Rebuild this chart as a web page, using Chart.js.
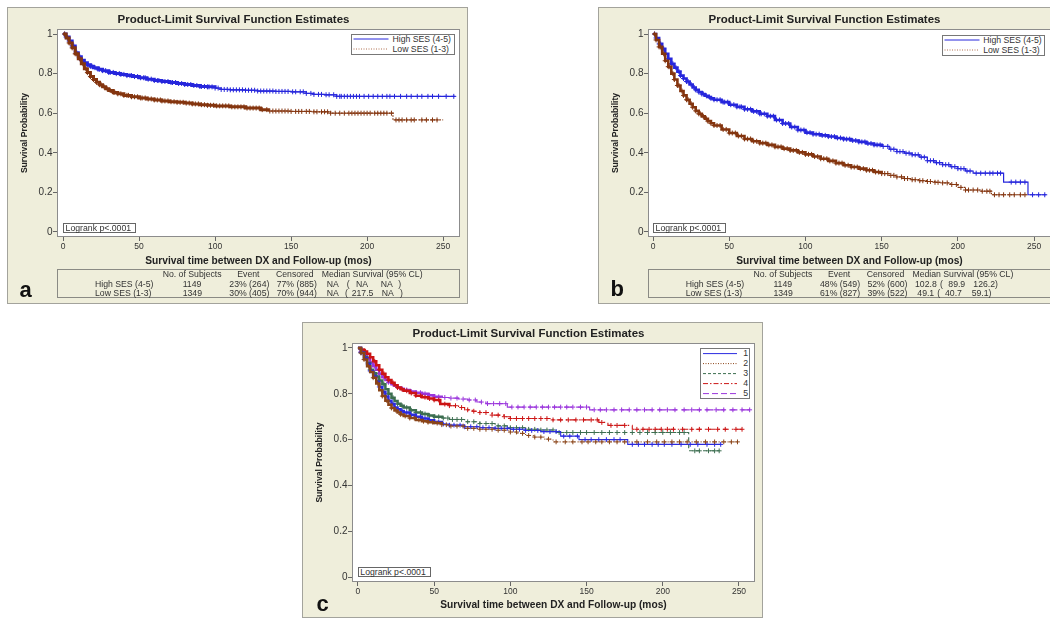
<!DOCTYPE html>
<html><head><meta charset="utf-8">
<script src="https://cdn.jsdelivr.net/npm/chart.js@4.4.1/dist/chart.umd.min.js"></script>
<style>
body{margin:0;width:1050px;height:619px;overflow:hidden;position:relative;background:#fff;font-family:"Liberation Sans",Arial,sans-serif;}
.panel{position:absolute;background:#efeedb;outline:1px solid #a3a39c;outline-offset:-1px;}
.panel canvas{position:absolute;left:0;top:0;}
.t{position:absolute;white-space:pre;font-size:8.7px;color:#333;line-height:10px;}
.box{position:absolute;border:1px solid #8a8a84;box-sizing:border-box;}
.lg{position:absolute;border:1px solid #777;background:#fff;box-sizing:border-box;}
.lr{position:absolute;border:1px solid #666;background:#fff;box-sizing:border-box;}
.let{position:absolute;font-weight:bold;font-size:22px;line-height:22px;color:#111;}
</style></head>
<body>
<div class="panel" id="pa" style="left:7px;top:7px;width:461px;height:297px"><canvas id="ca" width="461" height="297"></canvas></div>
<div class="panel" id="pb" style="left:598px;top:7px;width:461px;height:297px"><canvas id="cb" width="461" height="297"></canvas></div>
<div class="panel" id="pc" style="left:302px;top:322px;width:461px;height:296px"><canvas id="cc" width="461" height="296"></canvas></div>
<script>
// ---------------- DATA ----------------
const chartTitle = 'Product-Limit Survival Function Estimates';
const xTitle = 'Survival time between DX and Follow-up (mos)';
const yTitle = 'Survival Probability';
const xTicks = [0, 50, 100, 150, 200, 250];
const yTicks = [0, 0.2, 0.4, 0.6, 0.8, 1];
const yTickLabels = ['0', '0.2', '0.4', '0.6', '0.8', '1'];
const logrankText = 'Logrank p<.0001';
const legendAB = ['High SES (4-5)', 'Low SES (1-3)'];
const legendC = ['1', '2', '3', '4', '5'];

// Panel a: step curves (time, survival) and censor times
const aHighT = [0,2,4,6,8,10,12,14,16,18,20,23,26,30,34,38,42,46,50,55,60,65,70,75,80,85,90,95,100,104,110,120,128,140,150,160,165,172,180,258];
const aHighS = [1,0.985,0.965,0.94,0.905,0.885,0.868,0.855,0.845,0.837,0.83,0.822,0.815,0.806,0.80,0.796,0.79,0.785,0.779,0.772,0.765,0.76,0.755,0.75,0.745,0.74,0.735,0.733,0.727,0.72,0.718,0.716,0.712,0.71,0.708,0.70,0.695,0.693,0.685,0.685];
const aHighCens = [1,2,4,6,7,9,11,12,14,16,18,19,21,23,24,26,28,30,31,33,35,37,38,40,42,44,45,47,49,51,53,54,56,58,60,62,63,65,67,69,71,72,74,76,78,80,82,84,86,88,90,91,93,95,96,98,100,102,104,106,108,110,112,114,116,118,120,122,124,126,128,130,132,134,136,138,140,142,144,146,148,151,153,156,158,160,163,165,168,170,173,175,178,180,182,183,185,187,189,191,193,195,198,201,204,207,210,213,215,218,222,226,229,233,236,240,243,247,252,257];
const aLowT = [0,2,4,6,8,10,12,14,16,18,20,22,24,26,28,30,33,36,40,45,50,55,60,65,70,75,80,85,90,95,100,110,120,130,135,150,165,176,217,250];
const aLowS = [1,0.98,0.955,0.93,0.9,0.875,0.85,0.825,0.805,0.785,0.77,0.756,0.744,0.733,0.723,0.715,0.705,0.698,0.69,0.683,0.677,0.672,0.667,0.662,0.658,0.655,0.651,0.647,0.643,0.64,0.637,0.632,0.626,0.618,0.611,0.609,0.607,0.60,0.566,0.566];
const aLowCens = [1,3,4,6,8,9,11,13,15,16,18,20,22,24,25,27,29,31,33,34,36,38,40,42,43,45,47,49,51,52,54,56,58,60,62,64,65,67,69,71,73,75,77,79,81,83,85,87,89,91,93,95,97,99,101,103,105,107,109,111,113,115,117,119,121,123,125,127,129,131,134,136,138,140,142,144,146,148,150,153,155,157,160,162,165,167,170,172,174,176,179,182,185,188,190,192,194,196,198,200,202,205,207,209,211,213,216,219,221,223,226,229,231,236,239,243,246];

// Panel b
const bHighT = [0,2,4,6,8,10,12,14,16,18,20,22,24,26,28,30,32,34,36,38,40,45,50,55,60,65,70,75,80,85,90,95,100,105,110,115,120,125,130,135,140,145,150,155,160,165,170,175,180,185,190,195,200,205,210,230,246,258];
const bHighS = [1,0.98,0.95,0.925,0.9,0.875,0.85,0.83,0.81,0.79,0.775,0.76,0.745,0.73,0.718,0.707,0.697,0.688,0.682,0.675,0.668,0.656,0.643,0.632,0.62,0.609,0.597,0.585,0.566,0.548,0.53,0.515,0.502,0.494,0.488,0.482,0.475,0.469,0.462,0.455,0.447,0.44,0.432,0.418,0.406,0.398,0.39,0.378,0.36,0.35,0.34,0.33,0.32,0.308,0.297,0.252,0.188,0.188];
const bHighCens = [1,2,4,5,7,8,10,12,13,15,17,18,20,22,23,25,27,28,30,32,33,35,37,38,40,42,44,46,47,49,51,53,55,57,58,60,62,64,66,68,70,71,73,75,77,79,81,83,85,87,89,91,93,95,97,99,101,103,105,107,109,111,113,115,117,119,121,123,125,127,129,131,133,135,137,139,141,143,145,147,149,151,154,156,158,160,162,164,166,168,170,172,174,176,178,180,182,184,186,188,190,192,194,196,198,200,202,204,206,208,212,215,218,221,223,226,228,235,238,241,244,249,253,257];
const bLowT = [0,2,4,6,8,10,12,14,16,18,20,22,24,26,28,30,32,34,36,38,40,45,50,55,60,65,70,75,80,85,90,95,100,105,110,115,120,125,130,135,140,145,150,155,160,165,170,175,180,185,190,195,200,205,215,222,245];
const bLowS = [1,0.97,0.935,0.9,0.865,0.835,0.8,0.77,0.74,0.712,0.69,0.668,0.648,0.63,0.612,0.597,0.584,0.572,0.56,0.549,0.538,0.518,0.5,0.485,0.47,0.458,0.449,0.44,0.43,0.421,0.412,0.402,0.392,0.381,0.37,0.359,0.348,0.337,0.328,0.32,0.312,0.303,0.295,0.286,0.278,0.27,0.264,0.259,0.255,0.251,0.248,0.24,0.225,0.212,0.206,0.188,0.188];
const bLowCens = [1,2,4,5,7,8,10,11,13,14,16,17,19,20,22,23,25,26,28,30,31,33,35,36,38,40,42,44,46,48,50,52,54,56,58,60,62,64,66,68,70,72,74,76,78,80,82,84,86,88,90,92,94,96,98,100,102,104,106,108,110,112,114,116,118,120,122,124,126,128,130,132,134,136,138,140,142,144,146,148,150,152,154,156,158,160,163,165,167,170,172,175,177,180,182,185,187,190,193,196,199,202,205,207,210,213,216,219,221,224,227,230,234,237,241,244];

// Panel c (SES groups 1..5)
const c1T = [0,2,4,6,8,10,12,14,16,18,20,22,24,26,28,30,34,38,42,46,50,55,60,70,80,90,100,110,120,133,145,177,238];
const c1S = [1,0.98,0.955,0.93,0.9,0.875,0.853,0.83,0.808,0.788,0.77,0.755,0.74,0.732,0.725,0.718,0.708,0.70,0.692,0.684,0.677,0.668,0.663,0.656,0.652,0.649,0.645,0.64,0.635,0.615,0.60,0.579,0.579];
const c1Cens = [2,5,8,11,14,17,20,23,26,29,32,35,38,41,44,47,50,53,56,60,63,67,70,74,78,82,86,90,94,98,102,106,110,114,118,122,126,130,135,139,144,149,153,158,163,168,172,180,184,188,193,197,201,206,212,218,223,229,234,238];
const c2T = [0,2,4,6,8,10,12,14,16,18,20,22,24,26,28,30,34,38,42,46,50,55,60,70,80,90,100,105,110,115,122,128,250];
const c2S = [1,0.978,0.95,0.92,0.895,0.87,0.845,0.815,0.79,0.77,0.752,0.738,0.727,0.718,0.71,0.703,0.694,0.686,0.68,0.676,0.672,0.665,0.659,0.649,0.645,0.641,0.633,0.627,0.618,0.611,0.602,0.59,0.59];
const c2Cens = [2,4,7,10,13,16,19,22,25,28,31,34,37,40,43,46,49,52,55,58,61,65,69,72,76,80,84,88,92,96,100,104,108,112,116,120,125,130,136,141,147,151,156,160,165,170,175,183,190,196,201,206,211,216,222,228,234,240,245,249];
const c3T = [0,2,4,6,8,10,12,14,16,18,20,22,24,26,28,30,34,38,42,46,50,55,60,70,80,90,100,110,120,130,217,237];
const c3S = [1,0.98,0.96,0.935,0.905,0.89,0.875,0.858,0.842,0.82,0.8,0.783,0.768,0.756,0.748,0.74,0.728,0.718,0.712,0.705,0.70,0.694,0.688,0.678,0.67,0.66,0.652,0.645,0.642,0.631,0.551,0.551];
const c3Cens = [2,5,8,11,14,17,20,23,26,29,32,35,38,41,44,47,50,53,56,59,62,65,68,72,76,80,84,88,92,96,100,104,108,112,116,120,124,128,132,137,141,146,150,155,160,165,170,175,180,185,190,195,200,205,211,214,221,224,230,234,237];
const c4T = [0,2,4,6,8,10,12,14,16,18,20,22,24,26,28,30,34,38,42,46,50,54,60,66,70,75,80,88,96,100,128,158,164,180,252];
const c4S = [1,0.993,0.985,0.975,0.96,0.942,0.925,0.905,0.888,0.872,0.86,0.848,0.837,0.827,0.82,0.813,0.803,0.792,0.785,0.779,0.773,0.755,0.748,0.74,0.73,0.724,0.718,0.707,0.70,0.692,0.686,0.675,0.662,0.645,0.645];
const c4Cens = [2,5,8,11,14,17,20,23,26,29,32,35,38,41,44,47,50,53,57,60,64,68,72,76,80,84,88,92,96,100,104,108,112,116,120,124,128,133,138,143,148,153,157,160,166,170,175,183,187,191,195,199,203,207,213,219,224,230,236,241,248,252];
const c5T = [0,2,4,6,8,10,12,14,16,18,20,22,24,26,28,30,34,38,42,46,50,55,60,66,72,78,84,98,152,257];
const c5S = [1,0.985,0.97,0.955,0.937,0.92,0.905,0.888,0.872,0.86,0.85,0.842,0.835,0.828,0.822,0.817,0.81,0.805,0.8,0.794,0.787,0.784,0.781,0.777,0.773,0.764,0.757,0.742,0.73,0.73];
const c5Cens = [2,5,8,11,14,17,20,23,26,29,32,35,38,41,44,47,50,53,57,61,65,69,73,77,81,85,89,93,97,101,105,109,113,117,121,125,129,133,137,141,146,150,155,159,163,168,173,178,183,188,193,198,203,208,214,219,224,229,235,240,246,252,257];

// Summary tables
const tableHeaders = ['No. of Subjects', 'Event', 'Censored', 'Median Survival (95% CL)'];
const tableGroups = ['High SES (4-5)', 'Low SES (1-3)'];
const tableSubjects = ['1149', '1349'];
const aEvent = ['23% (264)', '30% (405)'];
const aCensored = ['77% (885)', '70% (944)'];
const aMedian = [['NA', '(', 'NA', 'NA', ')'], ['NA', '(', '217.5', 'NA', ')']];
const bEvent = ['48% (549)', '61% (827)'];
const bCensored = ['52% (600)', '39% (522)'];
const bMedian = [['102.8', '(', '89.9', '126.2)'], ['49.1', '(', '40.7', '59.1)']];

// ---------------- RENDERING ----------------
const FONT = "'Liberation Sans', Arial, sans-serif";
function stepAt(T, S, t) { let v = S[0]; for (let i = 0; i < T.length; i++) { if (T[i] <= t) v = S[i]; else break; } return v; }
function pts(T, S) { return T.map((t, i) => ({x: t, y: S[i]})); }
function censPts(C, T, S) { return C.map(t => ({x: t, y: stepAt(T, S, t)})); }

const framePlugin = {
  id: 'frame',
  beforeDraw(chart) {
    const a = chart.chartArea, c = chart.ctx;
    c.save(); c.fillStyle = '#fff'; c.fillRect(a.left, a.top, a.right - a.left, a.bottom - a.top); c.restore();
  },
  afterDraw(chart) {
    const a = chart.chartArea, c = chart.ctx;
    c.save(); c.strokeStyle = '#8c8c8c'; c.lineWidth = 1;
    c.strokeRect(Math.round(a.left) + 0.5, Math.round(a.top) + 0.5, Math.round(a.right - a.left) - 1, Math.round(a.bottom - a.top) - 1);
    c.restore();
  }
};

function datasetsFor(series) {
  const ds = [];
  series.forEach(s => {
    ds.push({
      data: pts(s.T, s.S), showLine: true, stepped: true, borderColor: s.color, borderWidth: s.thin,
      borderDash: s.dash, pointRadius: 0, fill: false,
      segment: {
        borderWidth: ctx => ctx.p0.parsed.x < s.thick ? s.wide : s.thin,
        borderDash: ctx => ctx.p0.parsed.x < s.thick ? [] : s.dash
      }
    });
    ds.push({
      data: censPts(s.C, s.T, s.S), showLine: false, pointStyle: 'cross', pointRadius: s.mark,
      borderColor: s.color, pointBorderColor: s.color, borderWidth: 1, pointBorderWidth: 1
    });
  });
  return ds;
}

function build(canvasId, series, P) {
  new Chart(document.getElementById(canvasId), {
    type: 'scatter',
    data: {datasets: datasetsFor(series)},
    options: {
      responsive: false, animation: false, devicePixelRatio: 1,
      layout: {padding: {left: 0, right: 8, top: 0, bottom: P.bottomPad}},
      plugins: {
        legend: {display: false}, tooltip: {enabled: false},
        title: {display: true, text: chartTitle, color: '#222',
          font: {family: FONT, size: 11.5, weight: 'bold'}, padding: {top: P.tpt, bottom: P.tpb}}
      },
      scales: {
        x: {
          type: 'linear', min: P.xmin, max: P.xmax,
          afterBuildTicks: s => { s.ticks = xTicks.map(v => ({value: v})); },
          afterFit: s => { s.height = P.xH; },
          grid: {drawOnChartArea: false, drawTicks: true, tickLength: 4, color: '#666'},
          border: {display: false},
          ticks: {font: {family: FONT, size: 8.5}, color: '#333', padding: 1, maxRotation: 0, autoSkip: false},
          title: {display: true, text: xTitle, color: '#222', font: {family: FONT, size: 10.2, weight: 'bold'}, padding: {top: 0, bottom: P.xtb}}
        },
        y: {
          type: 'linear', min: P.ymin, max: P.ymax,
          afterBuildTicks: s => { s.ticks = yTicks.map(v => ({value: v})); },
          afterFit: s => { s.width = 50; },
          grid: {drawOnChartArea: false, drawTicks: true, tickLength: 4, color: '#666'},
          border: {display: false},
          ticks: {font: {family: FONT, size: 10}, color: '#333', padding: 0.5, autoSkip: false,
            callback: v => { const i = yTicks.indexOf(v); return i >= 0 ? yTickLabels[i] : ''; }},
          title: {display: true, text: yTitle, color: '#222', font: {family: FONT, size: 8.6, weight: 'bold'}, padding: {top: 12, bottom: 0}}
        }
      }
    },
    plugins: [framePlugin]
  });
}

const BLUE = '#2626dc', BROWN = '#84350f';
build('ca', [
  {T: aLowT, S: aLowS, C: aLowCens, color: BROWN, dash: [1.5, 1.5], thick: 135, wide: 3, thin: 1.2, mark: 2.5},
  {T: aHighT, S: aHighS, C: aHighCens, color: BLUE, dash: [], thick: 100, wide: 3, thin: 1.2, mark: 2.5}
], {bottomPad: 32, xH: 35, xtb: 4.9, tpt: 6.1, tpb: 2.1, xmin: -4, xmax: 261.1, ymin: -0.0253, ymax: 1.0253});
build('cb', [
  {T: bLowT, S: bLowS, C: bLowCens, color: BROWN, dash: [1.5, 1.5], thick: 150, wide: 2.6, thin: 1.2, mark: 2.5},
  {T: bHighT, S: bHighS, C: bHighCens, color: BLUE, dash: [], thick: 150, wide: 2.6, thin: 1.2, mark: 2.5}
], {bottomPad: 32, xH: 35, xtb: 4.9, tpt: 6.1, tpb: 2.1, xmin: -3.3, xmax: 261.1, ymin: -0.0253, ymax: 1.0253});
const cColors = ['#2a2ae0', '#8a4418', '#3c6e50', '#cc1414', '#9a35dc'];
const cDash = [[], [1, 2], [4, 3], [6, 3, 1.5, 3], [8, 4]];
build('cc', [
  {T: c2T, S: c2S, C: c2Cens, color: cColors[1], dash: cDash[1], thick: 55, wide: 2.5, thin: 1.1, mark: 2.4},
  {T: c1T, S: c1S, C: c1Cens, color: cColors[0], dash: cDash[0], thick: 55, wide: 2.5, thin: 1.1, mark: 2.4},
  {T: c3T, S: c3S, C: c3Cens, color: cColors[2], dash: cDash[2], thick: 55, wide: 2.5, thin: 1.1, mark: 2.4},
  {T: c4T, S: c4S, C: c4Cens, color: cColors[3], dash: cDash[3], thick: 55, wide: 2.5, thin: 1.1, mark: 2.4},
  {T: c5T, S: c5S, C: c5Cens, color: cColors[4], dash: cDash[4], thick: 55, wide: 2.5, thin: 1.1, mark: 2.4}
], {bottomPad: 2, xH: 34, xtb: 4.9, tpt: 5.1, tpb: 2.1, xmin: -3.9, xmax: 260.5, ymin: -0.0218, ymax: 1.0218});

// ---------------- OVERLAYS (table, legend, logrank, panel letters) ----------------
function el(cls, x, y, w, h, html) {
  const d = document.createElement('div'); d.className = cls;
  d.style.left = x + 'px'; d.style.top = y + 'px';
  if (w != null) d.style.width = w + 'px'; if (h != null) d.style.height = h + 'px';
  if (html != null) d.innerHTML = html;
  document.body.appendChild(d); return d;
}
function txt(x, yc, s) { const d = el('t', x, yc - 5); d.textContent = s; return d; }

function table(dx, ev, ce, med, medX) {
  el('box', 57 + dx, 269, 403, 29);
  const hx = [162.7, 237.3, 276, 321.7];
  tableHeaders.forEach((h, i) => txt(hx[i] + dx, 274.3, h));
  const ry = [283.7, 293];
  for (let r = 0; r < 2; r++) {
    txt(95 + dx, ry[r], tableGroups[r]);
    txt(182.7 + dx, ry[r], tableSubjects[r]);
    txt(229.3 + dx, ry[r], ev[r]);
    txt(276.7 + dx, ry[r], ce[r]);
    med[r].forEach((m, i) => txt(medX[r][i] + dx, ry[r], m));
  }
}
table(0, aEvent, aCensored, aMedian, [[326.7, 346.7, 356, 380.7, 398.3], [326.7, 345, 351.7, 381.7, 400]]);
table(590.7, bEvent, bCensored, bMedian, [[324.3, 349.3, 357.6, 382.6], [326.6, 346.6, 354.3, 381]]);

function legend(x, y, w, h, labels, colors, dashes, lineX0, lineX1, textX, rowY0, rowStep) {
  const box = el('lg', x, y, w, h);
  let svg = '<svg width="' + w + '" height="' + h + '" style="position:absolute;left:-1px;top:-1px">';
  labels.forEach((l, i) => {
    const yy = rowY0 + i * rowStep;
    svg += '<line x1="' + lineX0 + '" x2="' + lineX1 + '" y1="' + yy + '" y2="' + yy + '" stroke="' + colors[i] + '" stroke-width="1"' +
      (dashes[i].length ? ' stroke-dasharray="' + dashes[i].join(',') + '"' : '') + '/>';
  });
  svg += '</svg>';
  box.innerHTML = svg;
  labels.forEach((l, i) => txt(x + textX, y + rowY0 + i * rowStep, l));
}
legend(351, 34, 103.5, 20.5, legendAB, [BLUE, '#b07050'], [[], [1, 1.5]], 2.5, 37.5, 41.5, 5, 10);
legend(941.7, 35, 103.5, 20.5, legendAB, [BLUE, '#b07050'], [[], [1, 1.5]], 2.5, 37.5, 41.5, 5, 10);
legend(700, 347.7, 49.5, 51, legendC, cColors, [[], [1, 1.5], [3, 2], [5, 2, 1.5, 2], [6, 3]], 3, 37, 43.3, 5.6, 10);

function logrank(x, y) {
  el('lr', x, y, 72.5, 10);
  txt(x + 2.3, y + 5, logrankText);
}
logrank(63.3, 223.3);
logrank(653.3, 222.7);
logrank(358, 566.7);

el('let', 19.5, 278.5, null, null, 'a');
el('let', 610.5, 278.2, null, null, 'b');
el('let', 316.5, 592.5, null, null, 'c');
</script>
</body></html>
